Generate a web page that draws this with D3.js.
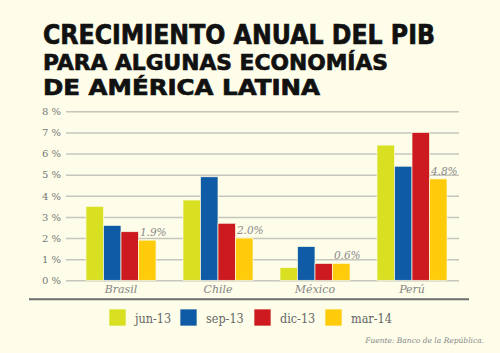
<!DOCTYPE html>
<html>
<head>
<meta charset="utf-8">
<script src="https://cdn.jsdelivr.net/npm/d3@7"></script>
<style>
  body { margin:0; background:#fdfde9; }
  svg { display:block; }
</style>
</head>
<body>
<div id="chart-area"></div>
<script>
// datos
var categories = ["Brasil", "Chile", "México", "Perú"];
var series = ["jun-13", "sep-13", "dic-13", "mar-14"];
var jun13 = [3.5, 3.8, 0.6, 6.4];
var sep13 = [2.6, 4.9, 1.6, 5.4];
var dic13 = [2.3, 2.7, 0.8, 7.0];
var mar14 = [1.9, 2.0, 0.8, 4.8];
var lastLabels = ["1.9%", "2.0%", "0.6%", "4.8%"];
var tickValues = [0, 1, 2, 3, 4, 5, 6, 7, 8];
var tickLabels = ["0 %", "1 %", "2 %", "3 %", "4 %", "5 %", "6 %", "7 %", "8 %"];
var colors = ["#d9e021", "#0f5ba6", "#cc1a20", "#ffcb0b"];

var width = 500, height = 353;
var svg = d3.select("#chart-area").append("svg")
    .attr("width", width)
    .attr("height", height);

svg.append("rect")
    .attr("width", width).attr("height", height)
    .attr("fill", "#fdfde9");

// titulo
var titleLines = [
    {t: "CRECIMIENTO ANUAL DEL PIB", y: 44, size: 26, len: 392},
    {t: "PARA ALGUNAS ECONOMÍAS", y: 70, size: 22, len: 345},
    {t: "DE AMÉRICA LATINA", y: 95, size: 22, len: 277}
];
svg.selectAll(".title")
    .data(titleLines)
    .enter().append("text")
    .attr("class", "title")
    .attr("x", 43)
    .attr("y", d => d.y)
    .attr("font-family", "'DejaVu Sans', sans-serif")
    .attr("font-weight", "bold")
    .attr("font-size", d => d.size + "px")
    .attr("textLength", d => d.len)
    .attr("lengthAdjust", "spacingAndGlyphs")
    .attr("fill", "#111")
    .attr("stroke", "#111")
    .attr("stroke-width", 0.7)
    .text(d => d.t);

var x = d3.scaleBand()
    .domain(categories)
    .range([72.5, 460.5])
    .paddingInner(27 / 97)
    .paddingOuter(13.5 / 97);

var x1 = d3.scaleBand()
    .domain(series)
    .range([0, x.bandwidth()]);

var y = d3.scaleLinear()
    .domain([0, 8])
    .range([280.3, 111.3]);

// eje y con lineas de cuadricula
var yAxisGroup = svg.append("g")
    .attr("transform", "translate(66,0)");
yAxisGroup.call(d3.axisLeft(y)
        .tickValues(tickValues)
        .tickSize(-393)
        .tickPadding(5)
        .tickFormat((d, i) => tickLabels[i]));
yAxisGroup.select(".domain").remove();
yAxisGroup.selectAll("line")
    .attr("stroke", "#c6c6bd")
    .attr("stroke-width", 1.5);
yAxisGroup.selectAll("text")
    .attr("fill", "#777")
    .attr("font-family", "'DejaVu Serif', serif")
    .attr("font-size", "10px");

var values = [jun13, sep13, dic13, mar14];
var groups = svg.selectAll(".grp")
    .data(categories)
    .enter().append("g")
    .attr("class", "grp")
    .attr("transform", d => "translate(" + x(d) + ",0)");

groups.selectAll("rect")
    .data((d, ci) => series.map((s, si) => ({s: s, v: values[si][ci], c: colors[si]})))
    .enter().append("rect")
    .attr("x", d => x1(d.s))
    .attr("y", d => y(d.v))
    .attr("width", x1.bandwidth())
    .attr("height", d => y(0) - y(d.v))
    .attr("fill", d => d.c)
    .attr("stroke", "#fbfbe0")
    .attr("stroke-width", 0.7);

// etiquetas de mar-14
svg.selectAll(".vlab")
    .data(categories)
    .enter().append("text")
    .attr("class", "vlab")
    .attr("x", (d) => x(d) + x1("mar-14") + x1.bandwidth() / 2 + 6)
    .attr("y", (d, i) => y(mar14[i]) - 4)
    .attr("text-anchor", "middle")
    .attr("font-family", "'DejaVu Serif', serif")
    .attr("font-style", "italic")
    .attr("font-size", "10.5px")
    .attr("fill", "#8a8a8a")
    .text((d, i) => lastLabels[i]);

// eje x
var xAxisGroup = svg.append("g")
    .attr("transform", "translate(0,280.3)");
xAxisGroup.call(d3.axisBottom(x).tickSize(0).tickPadding(5));
xAxisGroup.select(".domain").remove();
xAxisGroup.selectAll("text")
    .attr("fill", "#858585")
    .attr("font-family", "'DejaVu Serif', serif")
    .attr("font-style", "italic")
    .attr("font-size", "11px");

svg.append("line")
    .attr("x1", 29).attr("x2", 469)
    .attr("y1", 299.3).attr("y2", 299.3)
    .attr("stroke", "#6e6e6e")
    .attr("stroke-width", 2);

// leyenda
var legendX = [109, 180, 254, 325];
var legend = svg.selectAll(".leg")
    .data(series)
    .enter().append("g")
    .attr("class", "leg")
    .attr("transform", (d, i) => "translate(" + legendX[i] + ",309)");
legend.append("rect")
    .attr("width", 17).attr("height", 17)
    .attr("fill", (d, i) => colors[i])
    .attr("stroke", "#fbfbe0")
    .attr("stroke-width", 0.7);
legend.append("text")
    .attr("x", 26).attr("y", 14)
    .attr("font-family", "'DejaVu Serif Condensed', 'DejaVu Serif', serif")
    .attr("font-size", "12.5px")
    .attr("fill", "#666")
    .text(d => d);

svg.append("text")
    .attr("x", 484).attr("y", 343)
    .attr("text-anchor", "end")
    .attr("font-family", "'DejaVu Serif', serif")
    .attr("font-style", "italic")
    .attr("font-size", "7.5px")
    .attr("fill", "#8a8a8a")
    .text("Fuente: Banco de la República.");
</script>
</body>
</html>
